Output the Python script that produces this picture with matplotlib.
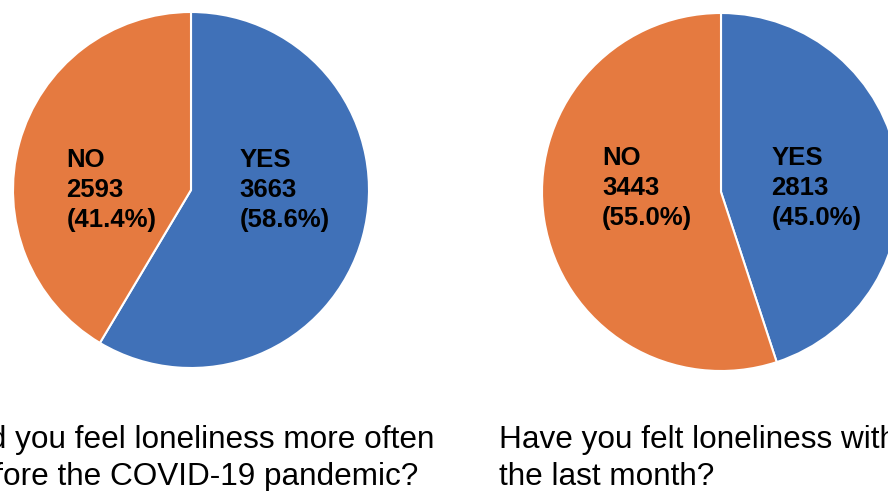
import matplotlib.pyplot as plt

W, H, DPI = 888, 491, 100

answers = ['YES', 'NO']
before_counts = [3663, 2593]
month_counts = [2813, 3443]
before_title = ['Did you feel loneliness more often', 'before the COVID-19 pandemic?']
month_title = ['Have you felt loneliness within', 'the last month?']

colors = ['#4071b8', '#e57a40']

plt.rcParams['font.family'] = ['Liberation Sans', 'DejaVu Sans']

fig = plt.figure(figsize=(W / DPI, H / DPI), dpi=DPI)


def pie_axes(cx, cy, r):
    # cx, cy, r in pixels, cy measured from the top; axes spans +-1.25 radii
    half = 1.25 * r
    return fig.add_axes([(cx - half) / W, (H - cy - half) / H,
                         2 * half / W, 2 * half / H])


def draw_pie(ax, counts, label_x, label_y):
    ax.pie(counts, colors=colors, startangle=90, counterclock=False,
           wedgeprops=dict(edgecolor='white', linewidth=1.5))
    ax.set_xlim(-1.25, 1.25)
    ax.set_ylim(-1.25, 1.25)
    total = sum(counts)
    for name, n, x in zip(answers, counts, label_x):
        txt = '%s\n%d\n(%.1f%%)' % (name, n, 100.0 * n / total)
        ax.text(x, label_y, txt, ha='left', va='center', fontsize=18.5,
                fontweight='bold', linespacing=1.32, color='black')


ax1 = pie_axes(191, 190, 178)
draw_pie(ax1, before_counts, [0.272, -0.70], 0.0)

ax2 = pie_axes(721, 192, 179)
draw_pie(ax2, month_counts, [0.282, -0.665], 0.02)

for x0, lines in [(-41, before_title), (499, month_title)]:
    for base, line in zip([448, 485], lines):
        fig.text(x0 / W, 1 - base / H, line, ha='left', va='baseline',
                 fontsize=22.7, color='black')

fig.savefig('out.png', dpi=DPI)
